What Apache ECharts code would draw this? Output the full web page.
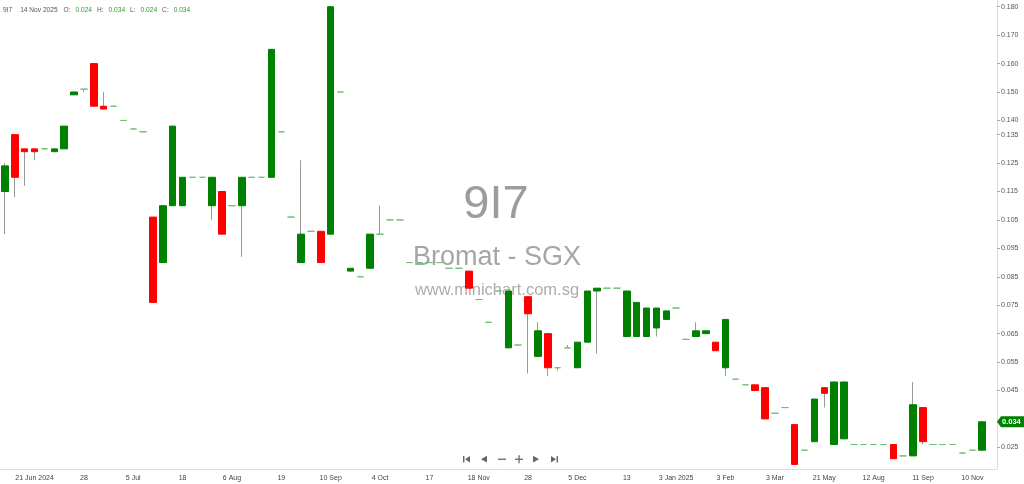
<!DOCTYPE html>
<html>
<head>
<meta charset="utf-8">
<script src="https://cdn.jsdelivr.net/npm/echarts@6/dist/echarts.min.js"></script>
<style>
html,body{margin:0;padding:0;background:#fff;}
#chart{width:1024px;height:484px;}
</style>
</head>
<body>
<div id="chart"></div>
<script>
// ---- data ----
const symbol = '9I7';
const company = 'Bromat - SGX';
const site = 'www.minichart.com.sg';
const lastDate = '14 Nov 2025';

const tickLabels = ['21 Jun 2024','28','5 Jul','18','6 Aug','19','10 Sep','4 Oct','17','18 Nov','28','5 Dec','13','3 Jan 2025','3 Feb','3 Mar','21 May','12 Aug','11 Sep','10 Nov'];

const opens = [
 0.115,0.135,0.130,0.130,0.130,0.129,0.130,0.149,0.151,0.160,
 0.145,0.145,0.140,0.137,0.136,0.106,0.090,0.110,0.110,0.120,
 0.120,0.110,0.115,0.110,0.110,0.120,0.120,0.120,0.136,0.106,
 0.090,0.101,0.101,0.100,0.150,0.087,0.085,0.088,0.100,0.105,
 0.105,0.090,0.090,0.090,0.090,0.088,0.088,0.087,0.077,0.069,
 0.080,0.060,0.061,0.078,0.057,0.065,0.053,0.060,0.053,0.062,
 0.080,0.081,0.081,0.064,0.064,0.064,0.067,0.070,0.074,0.063,
 0.064,0.065,0.062,0.053,0.049,0.047,0.047,0.046,0.037,0.039,
 0.033,0.024,0.027,0.046,0.026,0.028,0.026,0.026,0.026,0.026,
 0.026,0.022,0.022,0.039,0.026,0.026,0.026,0.023,0.024,0.024
];
const closes = [
 0.124,0.120,0.129,0.129,0.130,0.130,0.138,0.150,0.151,0.145,
 0.144,0.145,0.140,0.137,0.136,0.076,0.110,0.138,0.120,0.120,
 0.120,0.120,0.100,0.110,0.120,0.120,0.120,0.165,0.136,0.106,
 0.100,0.101,0.090,0.180,0.150,0.088,0.085,0.100,0.100,0.105,
 0.105,0.090,0.090,0.090,0.090,0.088,0.088,0.081,0.077,0.069,
 0.080,0.080,0.061,0.072,0.066,0.053,0.053,0.060,0.062,0.080,
 0.081,0.081,0.081,0.080,0.076,0.074,0.074,0.073,0.074,0.063,
 0.066,0.066,0.059,0.070,0.049,0.047,0.045,0.035,0.037,0.039,
 0.019,0.024,0.042,0.044,0.048,0.048,0.026,0.026,0.026,0.026,
 0.021,0.022,0.040,0.027,0.026,0.026,0.026,0.023,0.024,0.034
];
const highs = [
 0.125,0.135,0.130,0.130,0.130,0.130,0.138,0.150,0.151,0.160,
 0.150,0.145,0.140,0.137,0.136,0.106,0.110,0.138,0.120,0.120,
 0.120,0.120,0.115,0.110,0.120,0.120,0.120,0.165,0.136,0.106,
 0.126,0.101,0.101,0.180,0.150,0.088,0.085,0.100,0.110,0.105,
 0.105,0.090,0.090,0.090,0.090,0.088,0.088,0.087,0.077,0.069,
 0.080,0.080,0.061,0.078,0.069,0.065,0.053,0.061,0.062,0.080,
 0.081,0.081,0.081,0.080,0.076,0.074,0.074,0.073,0.074,0.063,
 0.069,0.066,0.062,0.070,0.049,0.047,0.047,0.046,0.037,0.039,
 0.033,0.024,0.042,0.046,0.048,0.048,0.026,0.026,0.026,0.026,
 0.026,0.022,0.048,0.039,0.026,0.026,0.026,0.023,0.024,0.034
];
const lows = [
 0.100,0.113,0.117,0.126,0.130,0.129,0.130,0.149,0.150,0.145,
 0.144,0.145,0.140,0.137,0.136,0.076,0.090,0.110,0.110,0.120,
 0.120,0.105,0.100,0.110,0.092,0.120,0.120,0.120,0.136,0.106,
 0.090,0.101,0.090,0.100,0.150,0.087,0.085,0.088,0.100,0.105,
 0.105,0.090,0.090,0.090,0.090,0.088,0.088,0.081,0.077,0.069,
 0.080,0.060,0.061,0.051,0.057,0.050,0.052,0.060,0.053,0.062,
 0.058,0.081,0.081,0.064,0.064,0.064,0.064,0.070,0.074,0.063,
 0.064,0.065,0.059,0.050,0.049,0.047,0.045,0.035,0.037,0.039,
 0.019,0.024,0.027,0.039,0.026,0.028,0.026,0.026,0.026,0.026,
 0.021,0.022,0.022,0.026,0.026,0.026,0.026,0.023,0.024,0.024
];

const yTickValues = [0.180,0.170,0.160,0.150,0.140,0.135,0.125,0.115,0.105,0.095,0.085,0.075,0.065,0.055,0.045,0.034,0.025];

// ---- build ----
const n = opens.length;
const categories = [];
for (let i = 0; i <= n; i++) {
  const k = (i - 3) / 5;
  categories.push(i >= 3 && Number.isInteger(k) && k < tickLabels.length ? tickLabels[k] : '');
}
const GREEN = '#008000', RED = '#ff0000', FLAT = '#6fbf6f', WICK = '#9a9a9a';

const wickData = opens.map((o, i) => [o, closes[i], lows[i], highs[i]]);
const bodyData = opens.map((o, i) => {
  const c = closes[i];
  const item = { value: [o, c, Math.min(o, c), Math.max(o, c)] };
  if (o === c) item.itemStyle = { color: FLAT, borderColor: FLAT, color0: FLAT, borderColor0: FLAT };
  return item;
});
const lastO = opens[n-1], lastH = highs[n-1], lastL = lows[n-1], lastC = closes[n-1];

const chart = echarts.init(document.getElementById('chart'), null, { renderer: 'canvas' });
const FONT = 'Liberation Sans, Arial, sans-serif';

const navGraphics = [
  { type: 'rect', shape: { x: 463, y: 456, width: 1.4, height: 6.5 }, style: { fill: '#666' } },
  { type: 'polygon', shape: { points: [[465, 459.2], [470, 456], [470, 462.5]] }, style: { fill: '#666' } },
  { type: 'polygon', shape: { points: [[481, 459.2], [487, 455.8], [487, 462.6]] }, style: { fill: '#666' } },
  { type: 'rect', shape: { x: 498, y: 458.6, width: 8, height: 1.3 }, style: { fill: '#666' } },
  { type: 'rect', shape: { x: 515, y: 458.6, width: 8, height: 1.3 }, style: { fill: '#666' } },
  { type: 'rect', shape: { x: 518.4, y: 455.2, width: 1.3, height: 8 }, style: { fill: '#666' } },
  { type: 'polygon', shape: { points: [[533, 455.8], [539, 459.2], [533, 462.6]] }, style: { fill: '#666' } },
  { type: 'polygon', shape: { points: [[551, 456], [556, 459.2], [551, 462.5]] }, style: { fill: '#666' } },
  { type: 'rect', shape: { x: 556.6, y: 456, width: 1.4, height: 6.5 }, style: { fill: '#666' } }
];
const watermark = [
  { type: 'text', z: -10, x: 496, y: 205, style: { text: symbol, fontSize: 47, fontFamily: FONT, fill: '#9c9c9c', align: 'center', verticalAlign: 'middle' } },
  { type: 'text', z: -10, x: 497, y: 258, style: { text: company, fontSize: 27, fontFamily: FONT, fill: '#a6a6a6', align: 'center', verticalAlign: 'middle' } },
  { type: 'text', z: -10, x: 497, y: 290, style: { text: site, fontSize: 16.5, fontFamily: FONT, fill: '#adadad', align: 'center', verticalAlign: 'middle' } }
];

const HF = 6.6;
chart.setOption({
  animation: false,
  backgroundColor: '#fff',
  title: {
    left: 3, top: 7, padding: 0,
    text: `{s|${symbol}}{t|${lastDate}}{d|O:}{g|${lastO.toFixed(3)}}{d|H:}{g|${lastH.toFixed(3)}}{d|L:}{g|${lastL.toFixed(3)}}{d|C:}{g|${lastC.toFixed(3)}}`,
    textStyle: {
      fontSize: HF, fontFamily: FONT, fontWeight: 'normal',
      rich: {
        s: { color: '#555', fontSize: HF, fontFamily: FONT, fontWeight: 'normal', padding: [0, 8, 0, 0] },
        t: { color: '#555', fontSize: HF, fontFamily: FONT, fontWeight: 'normal', padding: [0, 6, 0, 0] },
        d: { color: '#555', fontSize: HF, fontFamily: FONT, fontWeight: 'normal', padding: [0, 5, 0, 0] },
        g: { color: '#2f9a2f', fontSize: HF, fontFamily: FONT, fontWeight: 'normal', padding: [0, 5, 0, 0] }
      }
    }
  },
  grid: { left: 0, right: 27, top: 0, bottom: 15 },
  xAxis: {
    type: 'category',
    data: categories,
    boundaryGap: true,
    axisLine: { lineStyle: { color: '#dcdcdc' } },
    axisTick: { alignWithLabel: true, length: 3, interval: (i) => categories[i] !== '', lineStyle: { color: '#c8c8c8' } },
    axisLabel: { interval: 0, fontSize: 7, color: '#444', fontFamily: FONT, margin: 6 },
    splitLine: { show: false }
  },
  yAxis: {
    type: 'value',
    position: 'right',
    min: 0.01739, max: 0.18236,
    axisLine: { show: true, lineStyle: { color: '#dcdcdc' } },
    axisTick: { show: true, length: 3, customValues: yTickValues, lineStyle: { color: '#aaa' } },
    axisLabel: { customValues: yTickValues, fontSize: 7, color: '#555', fontFamily: FONT, margin: 4, formatter: (v) => v.toFixed(3) },
    splitLine: { show: false }
  },
  graphic: watermark.concat(navGraphics),
  series: [
    {
      name: 'wick', type: 'candlestick', data: wickData, barWidth: 1, z: 2,
      itemStyle: { color: WICK, color0: WICK, borderColor: WICK, borderColor0: WICK, borderWidth: 1 },
      silent: true
    },
    {
      name: symbol, type: 'candlestick', data: bodyData, barWidth: 7, z: 3,
      itemStyle: { color: GREEN, color0: RED, borderColor: GREEN, borderColor0: RED, borderWidth: 1 }
    }
  ]
});

// current-price tag, positioned through the axis scale
const py = chart.convertToPixel({ yAxisIndex: 0 }, lastC);
const axisX = 997;
chart.setOption({
  graphic: watermark.concat(navGraphics).concat([
    { type: 'polygon', z: 20, shape: { points: [[axisX, py], [axisX + 4, py - 5.5], [1024, py - 5.5], [1024, py + 5.5], [axisX + 4, py + 5.5]] }, style: { fill: GREEN } },
    { type: 'text', z: 21, x: axisX + 5, y: py, style: { text: lastC.toFixed(3), fill: '#fff', fontSize: 7.5, fontWeight: 'bold', fontFamily: FONT, align: 'left', verticalAlign: 'middle' } }
  ])
}, { replaceMerge: ['graphic'] });
</script>
</body>
</html>
